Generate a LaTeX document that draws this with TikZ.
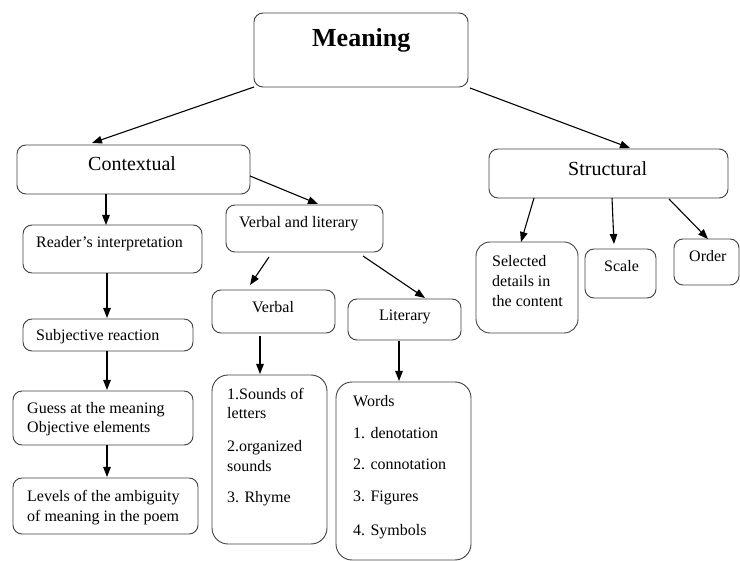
\documentclass[tikz,border=0pt]{standalone}
\usepackage{fontspec}
\setmainfont{Liberation Serif}
\usetikzlibrary{arrows.meta}
\begin{document}
\begin{tikzpicture}[x=1pt,y=-1pt,
  box/.style={draw=black!75,line width=0.9pt,rounded corners=9pt,inner sep=0pt,outer sep=0pt},
  arr/.style={line width=1.1pt,-{Triangle[length=10pt,width=7.5pt]}},
  txt/.style={anchor=base west,inner sep=0pt,font=\fontsize{16}{19}\selectfont},
  head/.style={anchor=base west,inner sep=0pt,font=\fontsize{20}{24}\selectfont}]
\useasboundingbox (0,0) rectangle (740,561);
\clip (0,0) rectangle (740,561);
% boxes
\node[box,minimum width=214pt,minimum height=74pt] (meaning) at (361,50) {};
\node[box,minimum width=233pt,minimum height=49pt] (ctx) at (133.5,169.5) {};
\node[box,minimum width=239pt,minimum height=49pt] (struct) at (608.5,173.5) {};
\node[box,minimum width=179pt,minimum height=48pt] (reader) at (112.5,249) {};
\node[box,minimum width=157pt,minimum height=47pt] (vl) at (304.5,228.5) {};
\node[box,minimum width=170pt,minimum height=32pt] (subj) at (108,335) {};
\node[box,minimum width=123pt,minimum height=43pt] (verbal) at (273.5,311.5) {};
\node[box,minimum width=113pt,minimum height=41pt] (literary) at (404.5,319.5) {};
\node[box,minimum width=180pt,minimum height=54pt] (guess) at (103,418) {};
\node[box,minimum width=185pt,minimum height=56pt] (levels) at (105.5,506) {};
\node[box,minimum width=115pt,minimum height=169pt,rounded corners=16pt] (sounds) at (269.5,459.5) {};
\node[box,minimum width=135pt,minimum height=178pt,rounded corners=16pt] (words) at (403.5,471) {};
\node[box,minimum width=102pt,minimum height=91pt,rounded corners=14pt] (selected) at (527,287.5) {};
\node[box,minimum width=71pt,minimum height=49pt] (scale) at (620.5,273.5) {};
\node[box,minimum width=65pt,minimum height=46pt] (order) at (706.5,262) {};
% texts
\node[anchor=base west,inner sep=0pt,font=\fontsize{26}{30}\selectfont\bfseries] (tmeaning) at (312,47) {Meaning};
\node[head] (tctx) at (88,171) {Contextual};
\node[head] (tstruct) at (568,176) {Structural};
\node[txt] (treader) at (36,248) {Reader’s interpretation};
\node[txt] (tvl) at (239,228) {Verbal and literary};
\node[txt] (tsubj) at (36,341) {Subjective reaction};
\node[txt] (tverbal) at (252,313) {Verbal};
\node[txt] (tliterary) at (379,321) {Literary};
\node[txt] (tguess1) at (27,414) {Guess at the meaning};
\node[txt] (tguess2) at (27,433) {Objective elements};
\node[txt] (tlev1) at (27,502) {Levels of the ambiguity};
\node[txt] (tlev2) at (27,522) {of meaning in the poem};
\node[txt] (ts1) at (227,400) {1.Sounds of};
\node[txt] (ts2) at (227,419) {letters};
\node[txt] (ts3) at (227,452) {2.organized};
\node[txt] (ts4) at (227,472) {sounds};
\node[txt] (ts5) at (227,503) {3. Rhyme};
\node[txt] (tw1) at (353,407) {Words};
\node[txt] (tw2) at (353,439) {1. denotation};
\node[txt] (tw3) at (353,470) {2. connotation};
\node[txt] (tw4) at (353,502) {3. Figures};
\node[txt] (tw5) at (353,536) {4. Symbols};
\node[txt] (tsel1) at (492,267) {Selected};
\node[txt] (tsel2) at (492,287) {details in};
\node[txt] (tsel3) at (492,307) {the content};
\node[txt] (tscale) at (604,272) {Scale};
\node[txt] (torder) at (689,262) {Order};
% arrows
\draw[arr] (meaning.south west) -- ([xshift=-41.5pt,yshift=2pt]ctx.north);
\draw[arr] ([xshift=2pt,yshift=-1pt]meaning.south east) -- ([xshift=21.5pt,yshift=1pt]struct.north);
\draw[arr] ([xshift=-27.5pt]ctx.south) -- ([xshift=-6.5pt]reader.north);
\draw[arr] ([yshift=-6.5pt]ctx.east) -- ([xshift=13.5pt,yshift=1pt]vl.north);
\draw[arr] ([xshift=-35.5pt,yshift=-5pt]vl.south) -- ([xshift=-23.5pt,yshift=5pt]verbal.north);
\draw[arr] ([xshift=58.5pt,yshift=-4pt]vl.south) -- ([xshift=20.5pt,yshift=1pt]literary.north);
\draw[arr] ([xshift=-5.5pt]reader.south) -- ([xshift=-1pt,yshift=1pt]subj.north);
\draw[arr] ([xshift=-1pt]subj.south) -- ([xshift=4pt,yshift=1pt]guess.north);
\draw[arr] ([xshift=4pt]guess.south) -- ([xshift=1.5pt,yshift=1pt]levels.north);
\draw[arr] ([xshift=-13.5pt,yshift=-3pt]verbal.south) -- ([xshift=-9.5pt,yshift=1pt]sounds.north);
\draw[arr] ([xshift=-5.5pt,yshift=-1pt]literary.south) -- ([xshift=-4.5pt,yshift=1pt]words.north);
\draw[arr] ([xshift=-74.5pt]struct.south) -- ([xshift=-6pt]selected.north);
\draw[arr] ([xshift=3.5pt]struct.south) -- ([xshift=-6.5pt,yshift=5pt]scale.north);
\draw[arr] ([xshift=60.5pt,yshift=-1pt]struct.south) -- ([xshift=1.5pt]order.north);
\end{tikzpicture}
\end{document}
